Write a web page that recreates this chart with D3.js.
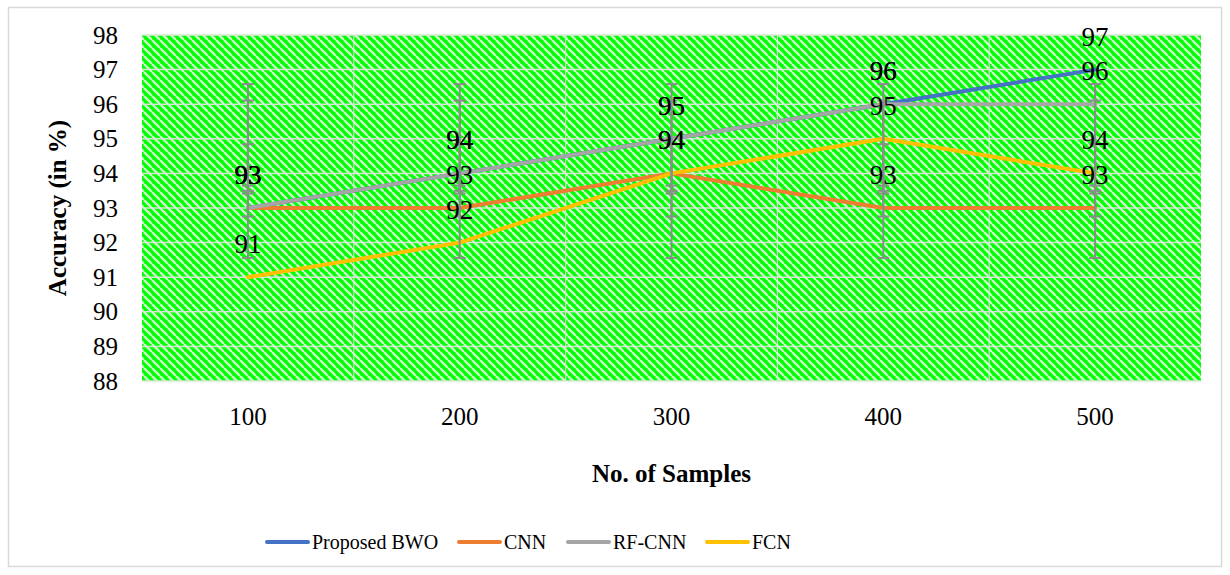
<!DOCTYPE html>
<html>
<head>
<meta charset="utf-8">
<script src="https://cdn.jsdelivr.net/npm/d3@7/dist/d3.min.js"></script>
<style>
    body { margin: 0; background: #fff; }
    svg { display: block; font-family: "Liberation Serif", "Times New Roman", serif; }
</style>
</head>
<body>
<svg id="chart" width="1230" height="575"></svg>
<script>
// データ
const categories = [100, 200, 300, 400, 500];
const bwoValues = [93, 94, 95, 96, 97];
const cnnValues = [93, 93, 94, 93, 93];
const rfcnnValues = [93, 94, 95, 96, 96];
const fcnValues = [91, 92, 94, 95, 94];
const yTickValues = [88, 89, 90, 91, 92, 93, 94, 95, 96, 97, 98];
const seriesNames = ['Proposed BWO', 'CNN', 'RF-CNN', 'FCN'];
const seriesColors = ['#4472C4', '#ED7D31', '#A5A5A5', '#FFC000'];

const series = [bwoValues, cnnValues, rfcnnValues, fcnValues].map((values, i) => ({
    name: seriesNames[i],
    color: seriesColors[i],
    values: values.map((v, j) => ({ x: categories[j], y: v }))
}));

const FONT = '"Liberation Serif", "Times New Roman", serif';
const svg = d3.select('#chart');
const plot = { left: 142, right: 1201, top: 35, bottom: 381 };

// 外枠
svg.append('rect')
    .attr('x', 8.5).attr('y', 7.5)
    .attr('width', 1213).attr('height', 559)
    .attr('fill', '#fff')
    .attr('stroke', '#d9d9d9')
    .attr('stroke-width', 1.5);

// 斜線パターン（緑地に明るいストライプ）
const defs = svg.append('defs');
const pattern = defs.append('pattern')
    .attr('id', 'hatch')
    .attr('patternUnits', 'userSpaceOnUse')
    .attr('width', 8)
    .attr('height', 8);
pattern.append('rect').attr('width', 8).attr('height', 8).attr('fill', '#00ff00');
[-8, 0, 8].forEach(dx => {
    pattern.append('line')
        .attr('x1', dx).attr('y1', 0)
        .attr('x2', dx + 8).attr('y2', 8)
        .attr('stroke', '#ccf5cc')
        .attr('stroke-width', 2.4);
});

const xScale = d3.scaleBand()
    .domain(categories)
    .range([plot.left, plot.right]);

const yScale = d3.scaleLinear()
    .domain([88, 98])
    .range([plot.bottom, plot.top]);

const cx = d => xScale(d) + xScale.bandwidth() / 2;

svg.append('rect')
    .attr('x', plot.left).attr('y', plot.top)
    .attr('width', plot.right - plot.left)
    .attr('height', plot.bottom - plot.top)
    .attr('fill', 'url(#hatch)');

// グリッド線
svg.append('g')
    .selectAll('line')
    .data(yTickValues)
    .join('line')
    .attr('x1', plot.left).attr('x2', plot.right)
    .attr('y1', d => yScale(d)).attr('y2', d => yScale(d))
    .attr('stroke', '#d4e8d4')
    .attr('stroke-width', 1.5);

svg.append('g')
    .selectAll('line')
    .data(categories.slice(1))
    .join('line')
    .attr('x1', d => xScale(d)).attr('x2', d => xScale(d))
    .attr('y1', plot.top).attr('y2', plot.bottom)
    .attr('stroke', '#d4e8d4')
    .attr('stroke-width', 1.2);

// 軸
const yAxis = d3.axisLeft(yScale).tickValues(yTickValues).tickSize(0).tickPadding(0);
svg.append('g')
    .attr('transform', `translate(${plot.left - 24}, 0)`)
    .attr('font-family', FONT)
    .call(yAxis)
    .call(g => g.attr('font-family', FONT))
    .call(g => g.select('.domain').remove())
    .selectAll('text')
    .attr('font-size', 25)
    .attr('fill', '#000');

const xAxis = d3.axisBottom(xScale).tickSize(0).tickPadding(0);
svg.append('g')
    .attr('transform', `translate(0, ${plot.bottom + 26})`)
    .call(xAxis)
    .call(g => g.attr('font-family', FONT))
    .call(g => g.select('.domain').remove())
    .selectAll('text')
    .attr('font-size', 25)
    .attr('fill', '#000');

// 軸ラベル
svg.append('text')
    .attr('transform', `translate(57, ${(plot.top + plot.bottom) / 2}) rotate(-90)`)
    .attr('text-anchor', 'middle')
    .attr('dy', '0.35em')
    .attr('font-size', 25)
    .attr('font-weight', 'bold')
    .text('Accuracy (in %)');

svg.append('text')
    .attr('x', (plot.left + plot.right) / 2)
    .attr('y', 482)
    .attr('text-anchor', 'middle')
    .attr('font-size', 25)
    .attr('font-weight', 'bold')
    .text('No. of Samples');

// ライン
const line = d3.line()
    .x(d => cx(d.x))
    .y(d => yScale(d.y));

svg.append('g')
    .selectAll('path')
    .data(series)
    .join('path')
    .attr('d', d => line(d.values))
    .attr('fill', 'none')
    .attr('stroke', d => d.color)
    .attr('stroke-width', 4)
    .attr('stroke-linejoin', 'round')
    .attr('stroke-linecap', 'round');

// 誤差範囲（系列平均 ± 標準偏差）
const errGroup = svg.append('g');
series.forEach(s => {
    const ys = s.values.map(d => d.y);
    const mean = d3.mean(ys);
    const sd = d3.deviation(ys);
    categories.forEach(c => {
        const x = cx(c);
        errGroup.append('line')
            .attr('x1', x).attr('x2', x)
            .attr('y1', yScale(mean - sd)).attr('y2', yScale(mean + sd))
            .attr('stroke', '#8c8c8c').attr('stroke-width', 2);
        [mean - sd, mean + sd].forEach(v => {
            errGroup.append('line')
                .attr('x1', x - 6).attr('x2', x + 6)
                .attr('y1', yScale(v)).attr('y2', yScale(v))
                .attr('stroke', '#8c8c8c').attr('stroke-width', 2);
        });
    });
});

// データラベル
svg.append('g')
    .selectAll('g')
    .data(series)
    .join('g')
    .selectAll('text')
    .data(d => d.values)
    .join('text')
    .attr('x', d => cx(d.x))
    .attr('y', d => yScale(d.y) - 24)
    .attr('text-anchor', 'middle')
    .attr('font-size', 27)
    .attr('fill', '#000')
    .text(d => d.y);

// 凡例
const legendX = [267, 459, 568, 707];
const legend = svg.append('g')
    .selectAll('g')
    .data(series)
    .join('g')
    .attr('transform', (d, i) => `translate(${legendX[i]}, 542)`);
legend.append('line')
    .attr('x1', 0).attr('x2', 41)
    .attr('stroke', d => d.color)
    .attr('stroke-width', 4)
    .attr('stroke-linecap', 'round');
legend.append('text')
    .attr('x', 45)
    .attr('dy', '0.35em')
    .attr('font-size', 20)
    .attr('fill', '#000')
    .text(d => d.name);
</script>
</body>
</html>
